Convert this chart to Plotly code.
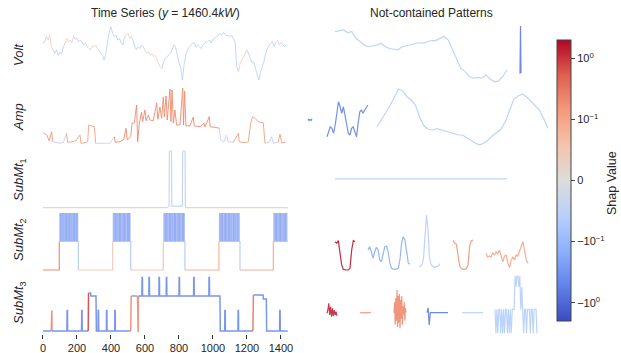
import numpy as np
import plotly.graph_objects as go

# ---------------- data ----------------
volt_t = list(range(0, 1440, 10))
volt_values = [242.3, 242.6, 243.8, 243.0, 244.1, 241.5, 240.8, 240.0, 240.8, 239.6,
               240.2, 240.0, 241.5, 242.3, 243.4, 242.6, 243.0, 242.4, 243.8, 243.2,
               243.4, 242.6, 243.0, 242.3, 241.9, 242.4, 241.5, 241.1, 240.8, 241.7,
               241.5, 241.9, 241.1, 240.8, 240.0, 239.6, 238.5, 240.0, 242.3, 244.9,
               246.0, 244.5, 243.8, 244.1, 243.0, 243.4, 242.3, 241.9, 243.8, 244.1,
               244.5, 243.4, 243.8, 243.0, 241.5, 240.8, 241.5, 241.1, 241.9, 241.5,
               240.8, 240.0, 240.4, 239.6, 240.0, 239.3, 239.6, 238.5, 237.8, 237.0,
               236.6, 238.1, 238.9, 239.3, 239.6, 240.0, 240.8, 241.9, 241.5, 239.3,
               237.8, 237.0, 234.0, 237.4, 239.6, 240.8, 241.5, 241.9, 242.3, 242.4,
               241.5, 241.9, 241.5, 241.1, 241.9, 242.3, 242.6, 242.6, 243.0, 242.4,
               243.2, 243.4, 243.8, 243.9, 244.5, 244.1, 244.7, 244.4, 243.9, 244.1,
               243.8, 244.1, 243.4, 242.6, 237.0, 235.9, 237.8, 238.5, 239.3, 240.0,
               240.8, 239.6, 238.9, 237.8, 238.1, 236.6, 235.1, 234.0, 235.9, 237.0,
               238.1, 240.0, 240.8, 241.9, 242.3, 242.6, 241.5, 242.6, 243.0, 241.9,
               242.4, 242.1, 241.5, 241.9]

amp_t = [2, 22, 37, 51, 57, 80, 100, 120, 139, 145, 169, 194, 218, 224, 247, 263, 269, 286, 302, 310,
         335, 365, 394, 420, 425, 453, 476, 488, 496, 516, 524, 537, 551, 557, 567, 580, 586, 600, 606, 620,
         629, 649, 669, 676, 688, 698, 708, 714, 724, 731, 747, 753, 759, 767, 776, 786, 806, 822, 827, 833,
         841, 865, 884, 890, 924, 947, 953, 978, 984, 1012, 1037, 1045, 1065, 1080, 1088, 1120, 1149, 1155,
         1188, 1208, 1222, 1233, 1247, 1267, 1296, 1306, 1335, 1345, 1355, 1384, 1394, 1404, 1427]
amp_values = [5.3, 4.4, 2.1, 5.7, 1.7, 1.3, 1.1, 1.5, 5.1, 1.5, 1.7, 2.1, 4.4, 1.1, 1.3, 1.7, 8.4, 8.0, 7.7, 1.1,
              1.1, 0.8, 1.1, 3.7, 1.5, 1.7, 2.7, 7.1, 2.4, 3.7, 9.1, 9.3, 16.4, 1.7, 9.1, 13.6, 9.7, 14.4, 10.1, 12.4,
              10.4, 10.1, 17.2, 10.7, 15.6, 11.1, 19.6, 11.7, 20.0, 10.4, 22.8, 9.7, 22.4, 9.1, 14.4, 8.4, 8.4, 23.2, 8.4, 22.0,
              8.0, 8.1, 11.6, 8.0, 7.7, 9.1, 7.7, 11.7, 7.7, 7.5, 7.1, 2.4, 1.7, 4.4, 1.7, 1.5, 5.1, 1.7,
              1.3, 1.7, 9.1, 11.7, 11.1, 9.7, 9.3, 1.1, 1.7, 3.7, 1.1, 1.5, 4.8, 1.3, 1.5]

sub1_t = [0, 725, 738, 742, 744, 756, 758, 820, 822, 836, 838, 1440]
sub1_values = [0, 0, 1, 1, 38, 38, 1, 1, 38, 38, 0, 0]

sub2_t = [0, 96, 96, 208, 208, 410, 410, 516, 516, 708, 708, 835, 835, 1035, 1035, 1159, 1159, 1355, 1355, 1440]
sub2_values = [0, 0, 1, 1, 0, 0, 1, 1, 0, 0, 1, 1, 0, 0, 1, 1, 0, 0, 1, 1]
sub2_peak_t = [99, 102, 104, 108, 111, 114, 117, 121, 124, 128, 131, 134, 137, 140, 142, 146, 149, 152, 156, 158,
               161, 165, 168, 172, 176, 178, 181, 184, 186, 190, 194, 196, 199, 202, 205,
               413, 416, 420, 423, 426, 429, 431, 435, 438, 442, 446, 449, 451, 454, 456, 460, 464, 467, 471,
               474, 477, 480, 482, 486, 489, 493, 497, 499, 502, 505, 507, 510, 513,
               711, 714, 718, 721, 724, 727, 729, 733, 737, 741, 744, 747, 749, 752, 755, 759, 762, 766, 770,
               773, 775, 778, 780, 784, 788, 791, 795, 798, 801, 804, 806, 810, 814, 818, 821, 824, 826, 829, 832,
               1038, 1041, 1045, 1048, 1051, 1054, 1056, 1060, 1064, 1068, 1071, 1074, 1076, 1080, 1083, 1087,
               1091, 1094, 1096, 1099, 1102, 1106, 1109, 1113, 1117, 1120, 1122, 1125, 1128, 1132, 1135, 1139,
               1143, 1146, 1148, 1152, 1155,
               1358, 1361, 1365, 1368, 1371, 1374, 1376, 1380, 1384, 1388, 1391, 1394, 1397, 1400, 1402, 1406,
               1410, 1414, 1417, 1420, 1423, 1426, 1428, 1432, 1436]
sub2_peak_value = 2

sub3_t = [0, 49, 50, 52, 53, 141, 142, 144, 145, 227, 228, 230, 231, 266, 268, 280, 282, 312, 314,
          324, 325, 327, 328, 373, 374, 376, 377, 422, 423, 425, 426, 516, 519, 556, 557, 560, 561,
          582, 583, 585, 586, 623, 624, 626, 627, 682, 683, 685, 686, 725, 726, 728, 729, 800, 801, 803, 804,
          886, 887, 889, 890, 976, 977, 979, 980, 1041, 1043, 1069, 1070, 1072, 1073, 1147, 1148, 1150, 1151,
          1235, 1238, 1295, 1297, 1314, 1316, 1392, 1393, 1395, 1396, 1440]
sub3_values = [0, 0, 10, 10, 0, 0, 10, 10, 0, 0, 10, 10, 0, 0, 18.5, 18.5, 17, 17, 0,
               0, 10, 10, 0, 0, 10, 10, 0, 0, 10, 10, 0, 0, 17, 17, -0.5, -0.5, 17,
               17, 26, 26, 17, 17, 26, 26, 17, 17, 26, 26, 17, 17, 26, 26, 17, 17, 26, 26, 17,
               17, 26, 26, 17, 17, 26, 26, 17, 17, 0, 0, 10, 10, 0, 0, 10, 10, 0,
               0, 17.5, 17.5, 15.5, 15.5, 0, 0, 10, 10, 0, 0]

# SHAP values (position on the symlog colour scale) per time zone
volt_shap_t = [0, 20, 60, 130, 180, 270, 330, 490, 520, 600, 700, 1150, 1200, 1370, 1395, 1440]
volt_shap = [-0.7, 0.5, -0.7, 0.5, -0.7, 0.5, -0.7, 0.5, -0.7, 0.5, -0.7, 0.5, -0.7, 0.5, -0.7]
amp_shap_t = [0, 60, 140, 315, 415, 1040, 1120, 1315, 1375, 1440]
amp_shap = [1.2, -0.5, 1.1, -0.4, 1.3, -0.4, 1.1, -0.5, 1.1]
sub1_shap_t = [0, 700, 850, 1440]
sub1_shap = [0.35, -0.45, 0.3]
sub2_shap_t = [0, 96.5, 208.5, 410.5, 516.5, 708.5, 835.5, 1035.5, 1159.5, 1355.5, 1440]
sub2_shap = [1.4, -0.7, 0.5, -0.7, 0.6, -0.7, 0.9, -0.7, 1.0, -0.7]
sub2_peak_shap = -1.5
sub3_shap_t = [0, 45, 56, 262, 272, 514, 523, 554, 565, 1230, 1242, 1440]
sub3_shap = [-1.6, 1.4, -1.6, 1.9, -1.6, 1.3, -1.4, 1.3, -1.6, 1.5, -1.6]

# Not-contained patterns (values in each variable's units)
pat_volt_a = [244.9, 245.1, 245.3, 244.7, 244.9, 243.4, 242.6, 241.9, 241.5, 241.7, 241.9, 242.3, 241.5, 241.1,
              240.9, 240.8, 241.5, 241.7, 241.9, 242.1, 242.4, 242.3, 242.6, 242.9, 242.9, 243.4, 243.8, 243.0,
              240.8, 238.5, 236.6, 235.9, 234.8, 234.4, 234.6, 234.4, 235.1, 234.2, 233.6, 233.8, 234.8, 236.3]
pat_volt_b = [235.4, 246.2, 235.6]
pat_amp_a = [10.9, 10.2, 10.6, 10.2, 10.9]
pat_amp_b = [3.7, 5.7, 7.7, 7.1, 5.1, 8.4, 14.4, 17.7, 15.7, 13.1, 15.7, 12.4, 9.1, 5.1, 4.4, 7.1, 7.7, 5.1,
             3.7, 9.1, 13.7, 14.4, 13.1, 14.4, 15.7, 16.4]
pat_amp_c = [7.7, 10.4, 13.1, 16.0, 19.3, 22.7, 22.1, 19.7, 18.4, 16.4, 11.5, 8.0, 6.7, 6.4, 6.9, 6.4, 5.6,
             5.1, 4.9, 4.4, 4.4, 3.5, 2.3, 1.1, 0.5, 1.1, 2.4, 4.1, 5.3, 6.7, 9.6, 14.4, 18.7, 20.0, 20.7,
             19.7, 17.9, 16.3, 14.4, 10.9, 7.1]
pat_sub1_a = [19.3, 19.3]
pat_sub2_a = [0.99, 0.94, 1.03, 0.56, 0.18, 0.02, 0.0, 0.0, 0.0, 0.06, 0.70, 1.03, 0.99]
pat_sub2_b = [0.70, 0.82, 0.64, 0.41, 0.64, 0.80, 0.70, 0.35, 0.29, 0.59, 0.82, 0.84, 0.64, 0.24, 0.06,
              0.03, 0.02, 0.03, 0.06, 0.35, 0.94, 1.17, 1.05, 0.59, 0.24, 0.20]
pat_sub2_c = [0.12, 0.13, 0.18, 0.41, 1.17, 1.93, 1.40, 0.44, 0.19, 0.12, 0.09, 0.11, 0.12, 0.14, 0.23]
pat_sub2_d = [1.03, 0.94, 0.91, 0.44, 0.14, 0.05, 0.02, 0.02, 0.05, 0.18, 0.84, 1.03, 1.05]
pat_sub2_e = [0.59, 0.45, 0.49, 0.45, 0.61, 0.52, 0.64, 0.56, 0.70, 0.47, 0.29, 0.49, 0.53, 0.24, 0.09,
              0.35, 0.45, 0.35, 0.53, 0.49, 0.70, 0.84, 0.99, 0.70, 0.35, 0.24]
pat_sub3_a = [8.6, 10.2, 13.4, 7.8, 11.8, 6.9, 11.0, 7.3, 10.2, 7.8, 9.4, 7.3]
pat_sub3_b = [8.9, 8.9]
pat_sub3_c = [8.9, 14.0, 3.0, 16.0, 5.0, 19.9, 2.0, 17.0, 4.0, 18.0, 1.3, 15.0, 6.0, 17.0, 3.0, 12.0,
              8.0, 14.0, 5.0, 11.0, 8.9]
pat_sub3_d = [8.9, 11.2, 2.9, 8.9, 8.9, 8.9, 8.9, 8.9, 8.9, 8.9, 8.9, 8.9, 8.9, 8.9, 8.9, 8.9, 8.9, 8.9, 8.9, 8.9]
pat_sub3_e = [8.9, 8.9]
pat_sub3_f = [10.5, -1.1, 10.5, -1.1, 10.5, 10.5, -1.1, 10.5, -1.1, 10.5, -1.1, 10.5, 10.5, -1.1, 10.5, -1.1,
              10.5, -1.1, 10.5, 10.5, 10.5, 26.7, 21.5, 26.7, 26.7, 21.5, 26.7, 10.5, 21.5, 10.5, -1.1, 10.5,
              10.5, -1.1, 10.5, 10.5, 10.5, -1.1, 10.5, 10.5, -1.1, 10.5, 10.5, 10.5, -1.1]
pattern_shap = {"volt_a": -0.6, "volt_b": -1.8, "amp_a": -1.7, "amp_b": -1.7, "amp_c": -0.6,
                "sub1_a": -0.6, "sub2_a": 2.2, "sub2_b": -1.2, "sub2_c": -0.6, "sub2_d": 1.2,
                "sub2_e": 1.0, "sub3_a": 2.1, "sub3_b": 1.2, "sub3_c": 1.3, "sub3_d": -1.8,
                "sub3_e": -0.6, "sub3_f": -0.6}

row_labels = ["<i>Volt</i>", "<i>Amp</i>", "<i>SubMt</i><sub>1</sub>",
              "<i>SubMt</i><sub>2</sub>", "<i>SubMt</i><sub>3</sub>"]
x_ticks = [0, 200, 400, 600, 800, 1000, 1200, 1400]
cbar_tickvals = [2, 1, 0, -1, -2]
cbar_ticktext = ["10<sup>0</sup>", "10<sup>\u22121</sup>", "0",
                 "\u221210<sup>\u22121</sup>", "\u221210<sup>0</sup>"]

# ---------------- styling / layout ----------------
W, H = 621, 353
FONT = "Liberation Sans, Arial, sans-serif"
CW = [(0.0, (58, 76, 192)), (0.125, (98, 130, 234)), (0.25, (141, 176, 254)),
      (0.375, (184, 208, 249)), (0.5, (221, 220, 219)), (0.625, (244, 196, 173)),
      (0.75, (244, 154, 123)), (0.875, (222, 96, 77)), (1.0, (180, 4, 38))]
UMIN, UMAX = -2.3, 2.3


def cw(u, a=1.0):
    t = min(max((u - UMIN) / (UMAX - UMIN), 0.0), 1.0)
    for (t0, c0), (t1, c1) in zip(CW[:-1], CW[1:]):
        if t <= t1 + 1e-9:
            f = (t - t0) / (t1 - t0)
            c = [round(c0[i] + (c1[i] - c0[i]) * f) for i in range(3)]
            return f"rgba({c[0]},{c[1]},{c[2]},{a})"
    return "rgba(180,4,38,%s)" % a


def py(px):  # pixel row -> paper y
    return 1 - px / H


def pxx(px):
    return px / W


row_px = [(25, 84), (86, 148), (148, 210), (210, 273), (273, 334)]
row_ranges = [[233.1, 246.4], [-0.8, 24.0], [-1.54, 40.0], [-0.105, 2.105], [-1.46, 28.16]]
label_y = [55, 117, 180, 240, 303]

fig = go.Figure()


def add_series(t, v, zt, zu, row, width=1.2, alpha=0.85):
    zt = np.asarray(zt, dtype=float)
    zones = [int(np.clip(np.searchsorted(zt, (t[i] + t[i + 1]) / 2, "right") - 1, 0, len(zu) - 1))
             for i in range(len(t) - 1)]
    i = 0
    while i < len(zones):
        j = i
        while j + 1 < len(zones) and zones[j + 1] == zones[i]:
            j += 1
        fig.add_trace(go.Scatter(x=list(t[i:j + 2]), y=list(v[i:j + 2]), mode="lines",
                                 line=dict(color=cw(zu[zones[i]], alpha), width=width),
                                 xaxis=f"x{row}", yaxis=f"y{row}", showlegend=False, hoverinfo="skip"))
        i = j + 1


add_series(volt_t, volt_values, volt_shap_t, volt_shap, 1, 1.0, 0.75)
add_series(amp_t, amp_values, amp_shap_t, amp_shap, 2, 1.0, 0.9)
add_series(sub1_t, sub1_values, sub1_shap_t, sub1_shap, 3, 1.2, 0.9)
# SubMt2 peaks
px_, py_ = [], []
for s in sub2_peak_t:
    px_ += [s, s, None]
    py_ += [1, sub2_peak_value, None]
fig.add_trace(go.Scatter(x=px_, y=py_, mode="lines", line=dict(color=cw(sub2_peak_shap, 0.5), width=1),
                         xaxis="x4", yaxis="y4", showlegend=False, hoverinfo="skip"))
add_series(sub2_t, sub2_values, sub2_shap_t, sub2_shap, 4, 1.2, 0.9)
add_series(sub3_t, sub3_values, sub3_shap_t, sub3_shap, 5, 1.5, 0.9)

# right panel placement: (pattern, row, slot start, slot end)
placement = [("volt_a", pat_volt_a, 1, 35, 207), ("volt_b", pat_volt_b, 1, 220, 221),
             ("amp_a", pat_amp_a, 2, 8, 12), ("amp_b", pat_amp_b, 2, 27, 68), ("amp_c", pat_amp_c, 2, 77, 248),
             ("sub1_a", pat_sub1_a, 3, 35, 207),
             ("sub2_a", pat_sub2_a, 4, 35, 55), ("sub2_b", pat_sub2_b, 4, 68, 110),
             ("sub2_c", pat_sub2_c, 4, 119, 140), ("sub2_d", pat_sub2_d, 4, 153, 173),
             ("sub2_e", pat_sub2_e, 4, 186, 228),
             ("sub3_a", pat_sub3_a, 5, 27, 37), ("sub3_b", pat_sub3_b, 5, 60, 71),
             ("sub3_c", pat_sub3_c, 5, 94, 106), ("sub3_d", pat_sub3_d, 5, 127, 148),
             ("sub3_e", pat_sub3_e, 5, 162, 183), ("sub3_f", pat_sub3_f, 5, 195, 237)]
for name, vals, row, x0, x1 in placement:
    xs = np.linspace(x0, x1, len(vals)).tolist()
    fig.add_trace(go.Scatter(x=xs, y=vals, mode="lines",
                             line=dict(color=cw(pattern_shap[name], 0.9), width=1.2),
                             xaxis="x6", yaxis=f"y{row}", showlegend=False, hoverinfo="skip"))

# colorbar
colorscale = [[t, "rgb(%d,%d,%d)" % c] for t, c in CW]
cbar = dict(x=pxx(557), xanchor="left", y=py(180.5), yanchor="middle",
            len=281 / H, lenmode="fraction", thickness=14,
            outlinewidth=1, outlinecolor="#444", xpad=0, ypad=0,
            tickvals=cbar_tickvals, ticktext=cbar_ticktext,
            ticks="outside", ticklen=4, tickcolor="#444",
            tickfont=dict(size=11, color="#262626", family=FONT))
fig.add_trace(go.Scatter(x=[None], y=[None], mode="markers", xaxis="x6", yaxis="y1", showlegend=False,
                         marker=dict(color=[0], cmin=UMIN, cmax=UMAX, colorscale=colorscale,
                                     showscale=True, colorbar=cbar)))

layout = dict(width=W, height=H, margin=dict(l=0, r=0, t=0, b=0), paper_bgcolor="white",
              plot_bgcolor="rgba(0,0,0,0)", showlegend=False, font=dict(family=FONT, color="#262626"))
for n in range(1, 6):
    k = "" if n == 1 else str(n)
    lo, hi = row_px[n - 1]
    layout[f"xaxis{k}"] = dict(domain=[pxx(36), pxx(292)], range=[-41, 1465], anchor=f"y{k}",
                               showgrid=False, zeroline=False, showline=False, visible=(n == 5),
                               tickvals=x_ticks, ticks="outside", ticklen=4, tickcolor="#333",
                               tickfont=dict(size=11, color="#262626", family=FONT))
    layout[f"yaxis{k}"] = dict(domain=[py(hi), py(lo)], range=row_ranges[n - 1], visible=False,
                               anchor=f"x{k}")
layout["xaxis6"] = dict(domain=[pxx(300), pxx(552)], range=[0, 252], visible=False, anchor="y5")

ann = [dict(text="Time Series (<i>y</i> = 1460.4<i>kW</i>)", x=pxx(165), y=py(13),
            xanchor="center", yanchor="middle", xref="paper", yref="paper",
            showarrow=False, font=dict(size=12, family=FONT, color="#262626")),
       dict(text="Not-contained Patterns", x=pxx(431), y=py(13), xanchor="center", yanchor="middle",
            xref="paper", yref="paper", showarrow=False, font=dict(size=12, family=FONT, color="#262626")),
       dict(text="Shap Value", x=pxx(612), y=py(183), xanchor="center", yanchor="middle",
            xref="paper", yref="paper", textangle=-90,
            showarrow=False, font=dict(size=12.5, family=FONT, color="#262626"))]
for lab, yl in zip(row_labels, label_y):
    ann.append(dict(text=lab, x=pxx(19), y=py(yl), xanchor="center", yanchor="middle",
                    xref="paper", yref="paper", textangle=-90,
                    showarrow=False, font=dict(size=13, family=FONT, color="#262626")))
layout["annotations"] = ann
fig.update_layout(**layout)
fig.write_html("out.html", config={"displayModeBar": False},
               post_script="document.body.style.margin='0';document.body.style.overflow='hidden';")
